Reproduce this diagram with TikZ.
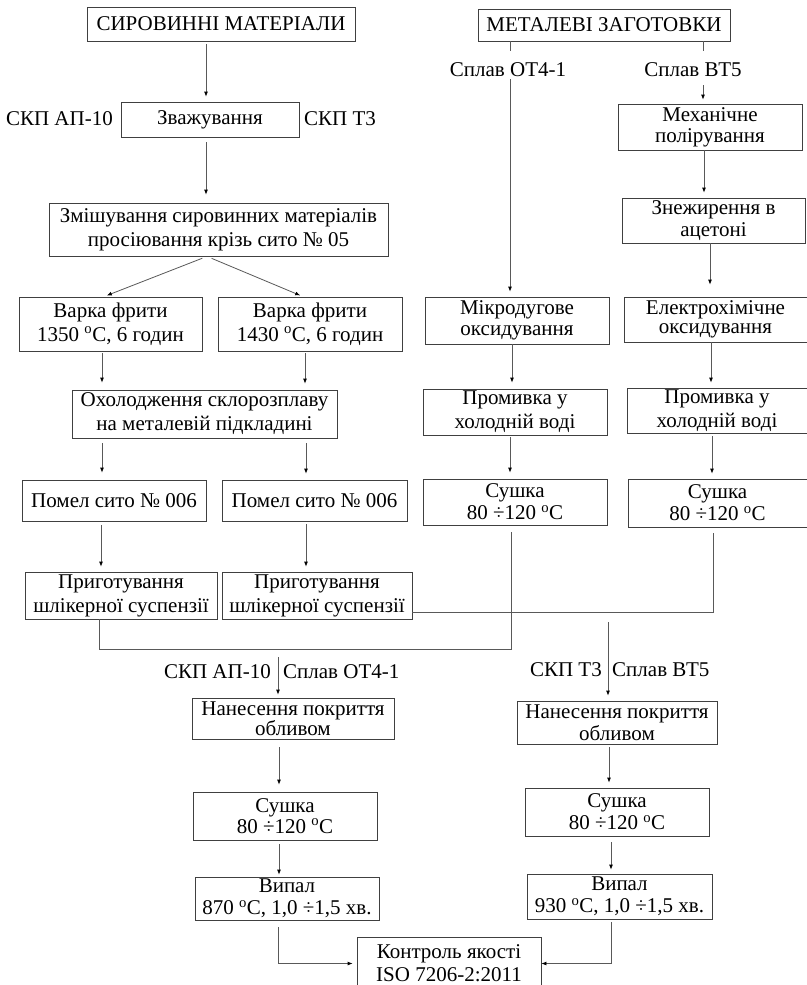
\documentclass[tikz,border=0pt]{standalone}
\usepackage{fontspec}
\setmainfont{Liberation Serif}
\usetikzlibrary{arrows.meta,calc}
\newcommand{\dgc}{\textsuperscript{o}C}
\begin{document}
\begin{tikzpicture}[x=1pt,y=-1pt,
 box/.style={draw=black!75,line width=0.8pt,inner sep=0pt,align=center,font=\fontsize{21}{24}\selectfont},
 lbl/.style={inner sep=0pt,font=\fontsize{21}{24}\selectfont},
 ln/.style={draw=black!65,line width=0.8pt},
 arr/.style={ln,-{Latex[length=5pt,width=4pt,black]}}]
\fill[white] (0,0) rectangle (806,985);
\useasboundingbox (0,0) rectangle (806,985);
% left column
\node[box,minimum width=268,minimum height=34] (raw) at (221,24) {СИРОВИННІ МАТЕРІАЛИ};
\node[box,minimum width=178,minimum height=35] (weigh) at (210,119.5) {Зважування};
\node[lbl,anchor=east] (sa) at (113,119) {СКП АП-10};
\node[lbl,anchor=west] (st) at (304,119) {СКП Т3};
\node[box,minimum width=339,minimum height=53] (mix) at (218.5,229.5) {Змішування сировинних матеріалів\\просіювання крізь сито № 05};
\node[box,minimum width=183,minimum height=54] (frit1) at (110.5,324) {Варка фрити\\1350 \dgc, 6 годин};
\node[box,minimum width=184,minimum height=54] (frit2) at (310,324) {Варка фрити\\1430 \dgc, 6 годин};
\node[box,minimum width=265,minimum height=48] (cool) at (204.5,414) {Охолодження склорозплаву\\на металевій підкладині};
\node[box,minimum width=184,minimum height=41] (mill1) at (114,500.5) {Помел сито № 006};
\node[box,minimum width=185,minimum height=41] (mill2) at (314.5,500.5) {Помел сито № 006};
\node[box,minimum width=192,minimum height=47] (slip1) at (121,595.5) {Приготування\\шлікерної суспензії};
\node[box,minimum width=190,minimum height=47] (slip2) at (317,595.5) {Приготування\\шлікерної суспензії};
% right column
\node[box,minimum width=252,minimum height=32] (met) at (604,25) {МЕТАЛЕВІ ЗАГОТОВКИ};
\node[lbl] (al1) at (508,70) {Сплав ОТ4-1};
\node[lbl] (al2) at (693,70) {Сплав ВТ5};
\node[box,minimum width=184,minimum height=46,font=\fontsize{21}{21}\selectfont] (mech) at (710,127) {Механічне\\полірування};
\node[box,minimum width=183,minimum height=45,font=\fontsize{21}{22}\selectfont] (degr) at (713.5,220.5) {Знежирення в\\ацетоні};
\node[box,minimum width=184,minimum height=47,font=\fontsize{21}{21}\selectfont] (mdo) at (517,320.5) {Мікродугове\\оксидування};
\node[box,minimum width=183,minimum height=45,font=\fontsize{21}{19.5}\selectfont] (echo) at (715.5,319.5) {Електрохімічне\\оксидування};
\node[box,minimum width=184,minimum height=46] (rinse1) at (515,412) {Промивка у\\холодній воді};
\node[box,minimum width=180,minimum height=45] (rinse2) at (717,410.5) {Промивка у\\холодній воді};
\node[box,minimum width=184,minimum height=46,font=\fontsize{21}{22}\selectfont] (dry1) at (515,502) {Сушка\\80 ÷120 \dgc};
\node[box,minimum width=179,minimum height=48,font=\fontsize{21}{22}\selectfont] (dry2) at (717.5,503) {Сушка\\80 ÷120 \dgc};
% bottom
\node[lbl,anchor=east] (sb1) at (271,672) {СКП АП-10};
\node[lbl,anchor=west] (sb2) at (283,672) {Сплав ОТ4-1};
\node[lbl,anchor=east] (sb3) at (602,670) {СКП Т3};
\node[lbl,anchor=west] (sb4) at (612,670) {Сплав ВТ5};
\node[box,minimum width=202,minimum height=41,font=\fontsize{21}{18}\selectfont] (coat1) at (293,718.5) {Нанесення покриття\\обливом};
\node[box,minimum width=200,minimum height=43,font=\fontsize{21}{22}\selectfont] (coat2) at (617,722.5) {Нанесення покриття\\обливом};
\node[box,minimum width=184,minimum height=48,font=\fontsize{21}{21}\selectfont] (dry3) at (285,816) {Сушка\\80 ÷120 \dgc};
\node[box,minimum width=184,minimum height=48,font=\fontsize{21}{22}\selectfont] (dry4) at (617,812) {Сушка\\80 ÷120 \dgc};
\node[box,minimum width=184,minimum height=43,font=\fontsize{21}{22}\selectfont] (fire1) at (287,898.5) {Випал\\870 \dgc, 1,0 ÷1,5 хв.};
\node[box,minimum width=185,minimum height=45,font=\fontsize{21}{22}\selectfont] (fire2) at (619.5,896.5) {Випал\\930 \dgc, 1,0 ÷1,5 хв.};
\node[box,minimum width=184,minimum height=53,font=\fontsize{21}{23}\selectfont] (qc) at (449,963.5) {Контроль якості\\ISO 7206-2:2011};
% connectors left
\draw[arr,shorten <=3pt,shorten >=5pt] (raw.south -| 206,0) -- (weigh.north -| 206,0);
\draw[arr,shorten <=5pt,shorten >=8pt] (weigh.south -| 206,0) -- (mix.north -| 206,0);
\draw[arr,shorten <=5pt,shorten >=3pt] (mix.south -| 207,0) -- (frit1.north -| 104,0);
\draw[arr,shorten <=5pt,shorten >=3pt] (mix.south -| 207,0) -- (frit2.north -| 303,0);
\draw[arr,shorten <=2pt,shorten >=7pt] (frit1.south -| 102,0) -- (cool.north -| 102,0);
\draw[arr,shorten <=2pt,shorten >=6pt] (frit2.south -| 305,0) -- (cool.north -| 305,0);
\draw[arr,shorten <=5pt,shorten >=7pt] (cool.south -| 102,0) -- (mill1.north -| 102,0);
\draw[arr,shorten <=5pt,shorten >=6pt] (cool.south -| 306,0) -- (mill2.north -| 306,0);
\draw[arr,shorten <=4pt,shorten >=5pt] (mill1.south -| 101,0) -- (slip1.north -| 101,0);
\draw[arr,shorten <=3pt,shorten >=5pt] (mill2.south -| 306,0) -- (slip2.north -| 306,0);
\draw[ln] (slip1.south -| 99,0) |- (511,649) -- ($(dry1.south -| 511,0)+(0,7)$);
\draw[ln] (slip2.east |- 0,612) -- (713,612) -- ($(dry2.south -| 713,0)+(0,6)$);
\coordinate (jL) at (278,657);
\coordinate (jR) at (608,622);
\draw[arr,shorten >=3pt] (jL) -- (coat1.north -| 278,0);
\draw[arr,shorten >=5pt] (jR) -- (coat2.north -| 608,0);
\draw[arr,shorten <=8pt,shorten >=7pt] (coat1.south -| 279,0) -- (dry3.north -| 279,0);
\draw[arr,shorten <=4pt,shorten >=2pt] (dry3.south -| 279,0) -- (fire1.north -| 279,0);
\draw[arr,shorten >=4pt] ($(fire1.south -| 278,0)+(0,7)$) |- (qc.west);
\draw[arr,shorten <=3pt,shorten >=5pt] (coat2.south -| 609,0) -- (dry4.north -| 609,0);
\draw[arr,shorten <=6pt,shorten >=4pt] (dry4.south -| 611,0) -- (fire2.north -| 611,0);
\draw[arr] ($(fire2.south -| 611,0)+(0,3)$) |- (qc.east);
% connectors right
\coordinate (a1t) at (510,51);
\coordinate (a1b) at (510,79);
\coordinate (a2t) at (703,51);
\coordinate (a2b) at (703,85);
\draw[ln] (met.south -| 510,0) -- (a1t);
\draw[ln] (met.south -| 703,0) -- (a2t);
\draw[arr,shorten >=5pt] (a1b) -- (mdo.north -| 510,0);
\draw[arr,shorten >=4pt] (a2b) -- (mech.north -| 703,0);
\draw[arr,shorten >=5pt] (mech.south -| 704,0) -- (degr.north -| 704,0);
\draw[arr,shorten >=12pt] (degr.south -| 710,0) -- (echo.north -| 710,0);
\draw[arr,shorten >=6pt] (mdo.south -| 512,0) -- (rinse1.north -| 512,0);
\draw[arr,shorten >=5pt] (echo.south -| 711,0) -- (rinse2.north -| 711,0);
\draw[arr,shorten <=2pt,shorten >=6pt] (rinse1.south -| 510,0) -- (dry1.north -| 510,0);
\draw[arr,shorten <=3pt,shorten >=5pt] (rinse2.south -| 712,0) -- (dry2.north -| 712,0);
\end{tikzpicture}
\end{document}
